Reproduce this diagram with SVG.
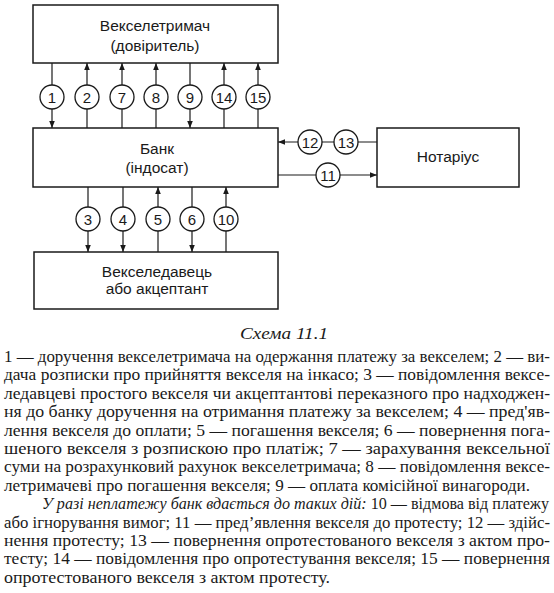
<svg xmlns="http://www.w3.org/2000/svg" width="554" height="593" viewBox="0 0 554 593">
<defs>
<marker id="ah" viewBox="0 0 10 10" refX="10" refY="5" markerWidth="7" markerHeight="7" markerUnits="userSpaceOnUse" orient="auto">
<path d="M0,1 L10,5 L0,9 Z" fill="#1a1a1a"/>
</marker>
<style>
.box{fill:#fff;stroke:#1a1a1a;stroke-width:1.5}
.bt{font-family:"Liberation Sans",Arial,sans-serif;font-size:15.5px;fill:#1a1a1a;text-anchor:middle}
.ln{stroke:#1a1a1a;stroke-width:1.2;fill:none}
.ar{stroke:#1a1a1a;stroke-width:1.2;fill:none;marker-end:url(#ah)}
.c{fill:#fff;stroke:#1a1a1a;stroke-width:1.3}
.ct{font-family:"Liberation Sans",Arial,sans-serif;font-size:15px;fill:#1a1a1a;text-anchor:middle}
.tx{font-family:"Liberation Serif","Times New Roman",serif;font-size:16.5px;fill:#1a1a1a}
.it{font-style:italic}
</style>
</defs>
<rect width="554" height="593" fill="#fff"/>
<g id="connectors">
<line class="ar" x1="52" y1="63" x2="52" y2="128"/>
<line class="ar" x1="87" y1="128" x2="87" y2="63"/>
<line class="ar" x1="122" y1="128" x2="122" y2="63"/>
<line class="ar" x1="156" y1="128" x2="156" y2="63"/>
<line class="ar" x1="190" y1="63" x2="190" y2="128"/>
<line class="ar" x1="224" y1="128" x2="224" y2="63"/>
<line class="ar" x1="258" y1="128" x2="258" y2="63"/>
<line class="ar" x1="88" y1="187" x2="88" y2="252"/>
<line class="ar" x1="123" y1="187" x2="123" y2="252"/>
<line class="ar" x1="158" y1="252" x2="158" y2="187"/>
<line class="ar" x1="192" y1="187" x2="192" y2="252"/>
<line class="ar" x1="226" y1="252" x2="226" y2="187"/>
<line class="ar" x1="377" y1="142" x2="278" y2="142"/>
<line class="ar" x1="278" y1="175" x2="377" y2="175"/>
</g>
<g id="n-vekseletrymach">
<rect class="box" x="33" y="5" width="245" height="58"/>
<text class="bt" x="155" y="31">Векселетримач</text>
<text class="bt" x="155" y="51">(довіритель)</text>
</g>
<g id="n-bank">
<rect class="box" x="33" y="128" width="245" height="59"/>
<text class="bt" x="157" y="154">Банк</text>
<text class="bt" x="157" y="173">(індосат)</text>
</g>
<g id="n-vekseledavets">
<rect class="box" x="34" y="252" width="244" height="57"/>
<text class="bt" x="157" y="277">Векселедавець</text>
<text class="bt" x="157" y="294">або акцептант</text>
</g>
<g id="n-notarius">
<rect class="box" x="377" y="128" width="142" height="59"/>
<text class="bt" x="448" y="162">Нотаріус</text>
</g>
<g id="labels">
<circle class="c" cx="52" cy="97" r="12"/><text class="ct" x="52" y="102.5">1</text>
<circle class="c" cx="87" cy="97" r="12"/><text class="ct" x="87" y="102.5">2</text>
<circle class="c" cx="122" cy="97" r="12"/><text class="ct" x="122" y="102.5">7</text>
<circle class="c" cx="156" cy="97" r="12"/><text class="ct" x="156" y="102.5">8</text>
<circle class="c" cx="190" cy="97" r="12"/><text class="ct" x="190" y="102.5">9</text>
<circle class="c" cx="224" cy="97" r="12"/><text class="ct" x="224" y="102.5">14</text>
<circle class="c" cx="258" cy="97" r="12"/><text class="ct" x="258" y="102.5">15</text>
<circle class="c" cx="88" cy="219" r="12"/><text class="ct" x="88" y="224.5">3</text>
<circle class="c" cx="123" cy="219" r="12"/><text class="ct" x="123" y="224.5">4</text>
<circle class="c" cx="158" cy="219" r="12"/><text class="ct" x="158" y="224.5">5</text>
<circle class="c" cx="192" cy="219" r="12"/><text class="ct" x="192" y="224.5">6</text>
<circle class="c" cx="226" cy="219" r="12"/><text class="ct" x="226" y="224.5">10</text>
<circle class="c" cx="310" cy="142" r="12"/><text class="ct" x="310" y="147.5">12</text>
<circle class="c" cx="346" cy="142" r="12"/><text class="ct" x="346" y="147.5">13</text>
<circle class="c" cx="328" cy="175" r="12"/><text class="ct" x="328" y="180.5">11</text>
</g>
<g id="caption">
<text class="tx it" x="240" y="339" font-size="19" textLength="88" lengthAdjust="spacingAndGlyphs">Схема 11.1</text>
<text class="tx" x="4" y="362" textLength="546" lengthAdjust="spacingAndGlyphs">1 — доручення векселетримача на одержання платежу за векселем; 2 — ви-</text>
<text class="tx" x="4" y="380.4" textLength="546" lengthAdjust="spacingAndGlyphs">дача розписки про прийняття векселя на інкасо; 3 — повідомлення вексе-</text>
<text class="tx" x="4" y="398.8" textLength="546" lengthAdjust="spacingAndGlyphs">ледавцеві простого векселя чи акцептантові переказного про надходжен-</text>
<text class="tx" x="4" y="417.2" textLength="546" lengthAdjust="spacingAndGlyphs">ня до банку доручення на отримання платежу за векселем; 4 — пред'яв-</text>
<text class="tx" x="4" y="435.6" textLength="546" lengthAdjust="spacingAndGlyphs">лення векселя до оплати; 5 — погашення векселя; 6 — повернення пога-</text>
<text class="tx" x="4" y="454" textLength="546" lengthAdjust="spacingAndGlyphs">шеного векселя з розпискою про платіж; 7 — зарахування вексельної</text>
<text class="tx" x="4" y="472.4" textLength="546" lengthAdjust="spacingAndGlyphs">суми на розрахунковий рахунок векселетримача; 8 — повідомлення вексе-</text>
<text class="tx" x="4" y="490.8" textLength="526" lengthAdjust="spacingAndGlyphs">летримачеві про погашення векселя; 9 — оплата комісійної винагороди.</text>
<text class="tx" x="42" y="509.2" textLength="507" lengthAdjust="spacingAndGlyphs"><tspan class="it">У разі неплатежу банк вдається до таких дій:</tspan> 10 — відмова від платежу</text>
<text class="tx" x="4" y="527.6" textLength="546" lengthAdjust="spacingAndGlyphs">або ігнорування вимог; 11 — пред’явлення векселя до протесту; 12 — здійс-</text>
<text class="tx" x="4" y="546" textLength="546" lengthAdjust="spacingAndGlyphs">нення протесту; 13 — повернення опротестованого векселя з актом про-</text>
<text class="tx" x="4" y="564.4" textLength="546" lengthAdjust="spacingAndGlyphs">тесту; 14 — повідомлення про опротестування векселя; 15 — повернення</text>
<text class="tx" x="4" y="582.8" textLength="326" lengthAdjust="spacingAndGlyphs">опротестованого векселя з актом протесту.</text>
</g>
</svg>
